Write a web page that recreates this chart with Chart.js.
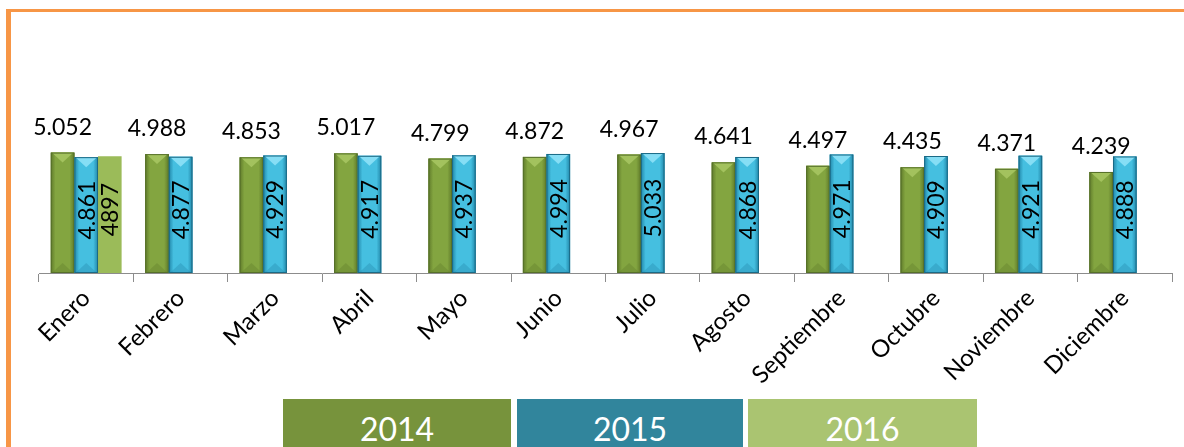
<!DOCTYPE html>
<html>
<head>
<meta charset="utf-8">
<script src="https://cdn.jsdelivr.net/npm/chart.js@4"></script>
<style>
  html, body { margin: 0; padding: 0; background: #fff; }
  #wrap { position: relative; width: 1184px; height: 447px; overflow: hidden; }
  #frame { position: absolute; left: 6px; top: 9px; width: 1200px; height: 460px;
           border-left: 5px solid #f79646; border-top: 3px solid #f79646; }
  #box { position: absolute; left: 0; top: 0; width: 1184px; height: 447px; }
  .leg { position: absolute; top: 399px; height: 60px; line-height: 60px; color: #fff;
         font-family: Lato, sans-serif; font-size: 32px; text-align: center; }
</style>
</head>
<body>
<div id="wrap">
  <div id="frame"></div>
  <div id="box"><canvas id="chart"></canvas></div>
  <div id="legend"></div>
</div>
<script>
// datos
const months = ['Enero', 'Febrero', 'Marzo', 'Abril', 'Mayo', 'Junio', 'Julio',
  'Agosto', 'Septiembre', 'Octubre', 'Noviembre', 'Diciembre'];
const years = ['2014', '2015', '2016'];
const values2014 = [5.052, 4.988, 4.853, 5.017, 4.799, 4.872, 4.967, 4.641, 4.497, 4.435, 4.371, 4.239];
const values2015 = [4.861, 4.877, 4.929, 4.917, 4.937, 4.994, 5.033, 4.868, 4.971, 4.909, 4.921, 4.888];
const values2016 = [4.897];
const labels2016 = ['4897'];

const colors = ['#77933c', '#31859c', '#aac471'];
const barColors = ['#7a9a3a', '#37a9ca', '#9bbb59'];

// leyenda (cajas de color)
const legendPos = [[283, 228], [517, 226], [748, 229]];
const legendEl = document.getElementById('legend');
years.forEach((y, i) => {
  const d = document.createElement('div');
  d.className = 'leg';
  d.style.left = legendPos[i][0] + 'px';
  d.style.width = legendPos[i][1] + 'px';
  d.style.background = colors[i];
  d.textContent = y;
  legendEl.appendChild(d);
});

function fmt(v) {
  return v.toFixed(3);
}

// efecto de bisel en las barras 2014 / 2015
const bevelPlugin = {
  id: 'bevel',
  afterDatasetsDraw(chart) {
    const ctx = chart.ctx;
    const shades = [
      { edge: '#5f7a2a', mid: '#83a540', top: '#a3c25e', out: '#56702a' },
      { edge: '#2186a8', mid: '#45bfe0', top: '#86def5', out: '#1b6a86' }
    ];
    [0, 1].forEach(di => {
      const s = shades[di];
      chart.getDatasetMeta(di).data.forEach(bar => {
        const w = bar.width, x0 = bar.x - w / 2, x1 = bar.x + w / 2;
        const top = bar.y, base = bar.base;
        ctx.save();
        const g = ctx.createLinearGradient(x0, 0, x1, 0);
        g.addColorStop(0, s.edge);
        g.addColorStop(0.2, s.mid);
        g.addColorStop(0.8, s.mid);
        g.addColorStop(1, s.edge);
        ctx.fillStyle = g;
        ctx.fillRect(x0, top, w, base - top);
        // cara superior
        const tri = Math.min(10, w * 0.45);
        ctx.fillStyle = s.top;
        ctx.beginPath();
        ctx.moveTo(x0 + 1, top);
        ctx.lineTo(x1 - 1, top);
        ctx.lineTo(bar.x, top + tri);
        ctx.closePath();
        ctx.fill();
        // cara inferior
        ctx.globalAlpha = 0.35;
        ctx.fillStyle = s.edge;
        ctx.beginPath();
        ctx.moveTo(x0 + 1, base);
        ctx.lineTo(x1 - 1, base);
        ctx.lineTo(bar.x, base - tri);
        ctx.closePath();
        ctx.fill();
        ctx.globalAlpha = 1;
        ctx.strokeStyle = s.out;
        ctx.lineWidth = 1;
        ctx.strokeRect(x0 + 0.5, top + 0.5, w - 1, base - top - 1);
        ctx.restore();
      });
    });
  }
};

// etiquetas de valores
const valueLabels = {
  id: 'valueLabels',
  afterDatasetsDraw(chart) {
    const ctx = chart.ctx;
    ctx.save();
    ctx.fillStyle = '#000';
    ctx.font = '23px Lato, sans-serif';
    chart.data.datasets.forEach((ds, di) => {
      chart.getDatasetMeta(di).data.forEach((bar, i) => {
        const v = ds.data[i];
        if (v == null) return;
        if (di === 0) {
          ctx.textAlign = 'center';
          ctx.textBaseline = 'alphabetic';
          ctx.fillText(fmt(v), bar.x, bar.y - 18);
        } else {
          const txt = di === 2 ? labels2016[i] : fmt(v);
          ctx.save();
          ctx.translate(bar.x + 1, (bar.y + bar.base) / 2 - 5);
          ctx.rotate(-Math.PI / 2);
          ctx.textAlign = 'center';
          ctx.textBaseline = 'middle';
          ctx.fillText(txt, 0, 0);
          ctx.restore();
        }
      });
    });
    ctx.restore();
  }
};

new Chart(document.getElementById('chart'), {
  type: 'bar',
  data: {
    labels: months,
    datasets: [
      { label: years[0], data: values2014, backgroundColor: barColors[0] },
      { label: years[1], data: values2015, backgroundColor: barColors[1] },
      { label: years[2], data: months.map((m, i) => values2016[i] ?? null), backgroundColor: barColors[2] }
    ]
  },
  options: {
    responsive: true,
    maintainAspectRatio: false,
    animation: false,
    categoryPercentage: 0.75,
    barPercentage: 1,
    layout: { padding: { left: 39, right: 12, top: 130, bottom: 0 } },
    plugins: {
      legend: { display: false },
      tooltip: { enabled: false }
    },
    scales: {
      x: {
        grid: { display: true, drawOnChartArea: false, drawTicks: true, tickLength: 9, color: '#8c8c8c', offset: true },
        border: { display: true, color: '#8c8c8c' },
        ticks: {
          minRotation: 45, maxRotation: 45, color: '#000', padding: 2,
          font: { family: 'Lato', size: 24 }
        },
        afterFit: s => { s.height = 174; }
      },
      y: { display: false, min: 0, max: 6 }
    }
  },
  plugins: [bevelPlugin, valueLabels]
});
</script>
</body>
</html>
